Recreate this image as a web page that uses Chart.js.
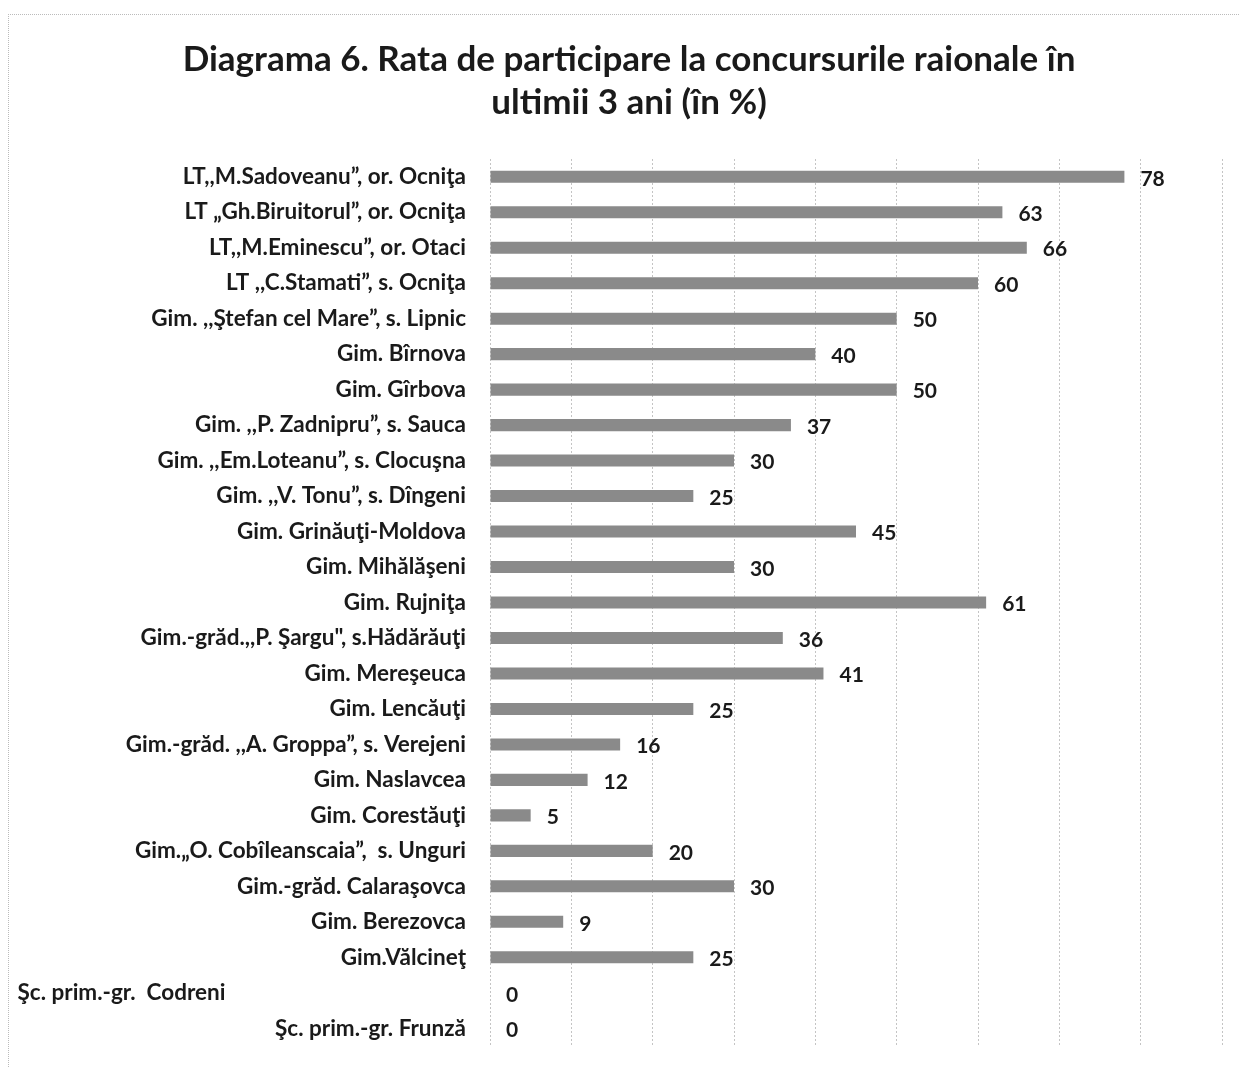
<!DOCTYPE html>
<html>
<head>
<meta charset="utf-8">
<script src="https://cdn.jsdelivr.net/npm/chart.js@4"></script>
<style>
    html, body { margin: 0; padding: 0; background: #fff; }
    #wrap { position: relative; width: 1239px; height: 1067px; }
    #frame {
        position: absolute; left: 8px; top: 14px; right: 0; bottom: 0;
        border-top: 1px dotted #bbb; border-left: 1px dotted #bbb;
        pointer-events: none;
    }
</style>
</head>
<body>
<div id="wrap">
    <canvas id="chart" width="1239" height="1067"></canvas>
    <div id="frame"></div>
</div>
<script>
    const SCHOOLS = [
        'LT,,M.Sadoveanu”, or. Ocniţa',
        'LT „Gh.Biruitorul”, or. Ocniţa',
        'LT,,M.Eminescu”, or. Otaci',
        'LT ,,C.Stamati”, s. Ocniţa',
        'Gim. ,,Ştefan cel Mare”, s. Lipnic',
        'Gim. Bîrnova',
        'Gim. Gîrbova',
        'Gim. ,,P. Zadnipru”, s. Sauca',
        'Gim. ,,Em.Loteanu”, s. Clocuşna',
        'Gim. ,,V. Tonu”, s. Dîngeni',
        'Gim. Grinăuţi-Moldova',
        'Gim. Mihălăşeni',
        'Gim. Rujniţa',
        'Gim.-grăd.,,P. Şargu", s.Hădărăuţi',
        'Gim. Mereşeuca',
        'Gim. Lencăuţi',
        'Gim.-grăd. ,,A. Groppa”, s. Verejeni',
        'Gim. Naslavcea',
        'Gim. Corestăuţi',
        'Gim.„O. Cobîleanscaia”,  s. Unguri',
        'Gim.-grăd. Calaraşovca',
        'Gim. Berezovca',
        'Gim.Vălcineţ',
        'Şc. prim.-gr.  Codreni',
        'Şc. prim.-gr. Frunză',
    ];

    const RATES = [78, 63, 66, 60, 50, 40, 50, 37, 30, 25, 45, 30, 61, 36, 41, 25, 16, 12, 5, 20, 30, 9, 25, 0, 0];

    const X_MAX = 90;
    const X_STEP = 10;

    const TITLE_LINES = [
        'Diagrama 6. Rata de participare la concursurile raionale în',
        'ultimii 3 ani (în %)',
    ];

    // label of the Codreni row sits flush left in the original (trailing spaces)
    const LEFT_ALIGNED = 'Şc. prim.-gr.  Codreni';

    const FONT = 'Lato, "Open Sans", sans-serif';

    // title is centred a little right of the canvas middle, as in the original
    const titlePlugin = {
        id: 'offsetTitle',
        afterDraw: function (chart) {
            const ctx = chart.ctx;
            ctx.save();
            ctx.font = 'bold 35px ' + FONT;
            ctx.fillStyle = '#1a1a1a';
            ctx.textAlign = 'center';
            ctx.textBaseline = 'middle';
            TITLE_LINES.forEach(function (line, i) {
                ctx.fillText(line, 629, 60 + i * 43);
            });
            ctx.restore();
        },
    };

    const valueLabels = {
        id: 'valueLabels',
        afterDatasetsDraw: function (chart) {
            const ctx = chart.ctx;
            const meta = chart.getDatasetMeta(0);
            ctx.save();
            ctx.font = 'bold 21px ' + FONT;
            ctx.fillStyle = '#1a1a1a';
            ctx.textAlign = 'left';
            ctx.textBaseline = 'middle';
            meta.data.forEach(function (bar, i) {
                ctx.fillText(String(RATES[i]), bar.x + 16, bar.y + 2);
            });
            ctx.restore();
        },
    };

    new Chart(document.getElementById('chart').getContext('2d'), {
        type: 'bar',
        data: {
            labels: SCHOOLS,
            datasets: [
                {
                    data: RATES,
                    backgroundColor: '#8a8a8a',
                    categoryPercentage: 1,
                    barPercentage: 0.34,
                },
            ],
        },
        options: {
            indexAxis: 'y',
            responsive: false,
            animation: false,
            layout: { padding: { top: 159, right: 17, bottom: 21, left: 0 } },
            plugins: {
                legend: { display: false },
                tooltip: { enabled: false },
                title: { display: false },
            },
            scales: {
                x: {
                    min: 0,
                    max: X_MAX,
                    afterFit: function (scale) {
                        scale.height = 0;
                    },
                    ticks: { display: false, stepSize: X_STEP },
                    grid: { color: '#c4c4c4', lineWidth: 1, drawTicks: false },
                    border: { display: false, dash: [2, 2] },
                },
                y: {
                    afterFit: function (scale) {
                        scale.width = 490;
                        scale.paddingTop = 0;
                        scale.paddingBottom = 0;
                    },
                    grid: { display: false },
                    border: { display: false },
                    ticks: {
                        color: '#1a1a1a',
                        padding: 16,
                        font: { family: FONT, size: 22.5, weight: 'bold' },
                        callback: function (value) {
                            const label = this.getLabelForValue(value);
                            return label === LEFT_ALIGNED ? label + ' '.repeat(44) : label;
                        },
                    },
                },
            },
        },
        plugins: [valueLabels, titlePlugin],
    });
</script>
</body>
</html>
